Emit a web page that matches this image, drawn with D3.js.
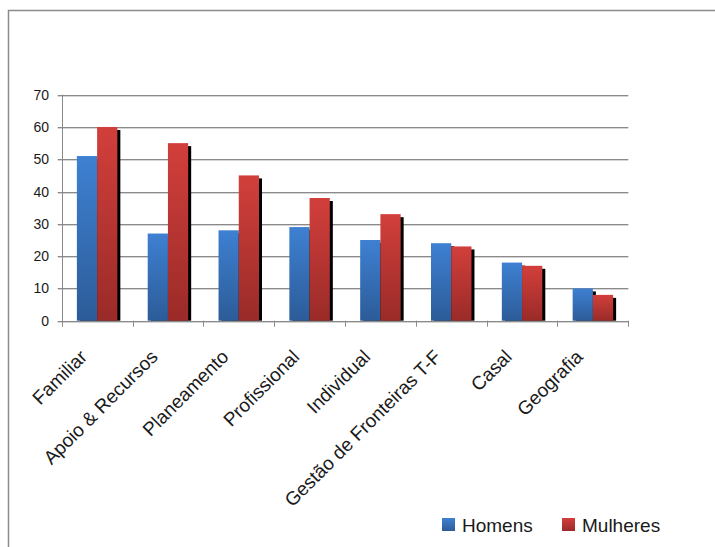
<!DOCTYPE html>
<html>
<head>
<meta charset="utf-8">
<script src="https://cdn.jsdelivr.net/npm/d3@7"></script>
<style>
    body { margin: 0; background: #fff; }
    text { font-family: "Liberation Sans", Arial, sans-serif; fill: #1a1a1a; }
</style>
</head>
<body>
<div id="chart"></div>
<script>

var categories = ["Familiar", "Apoio & Recursos", "Planeamento", "Profissional",
    "Individual", "Gestão de Fronteiras T-F", "Casal", "Geografia"];
var series = ["Homens", "Mulheres"];
var homens = [51, 27, 28, 29, 25, 24, 18, 10];
var mulheres = [60, 55, 45, 38, 33, 23, 17, 8];
var yTicks = [0, 10, 20, 30, 40, 50, 60, 70];

var values = [homens, mulheres];
var width = 715, height = 547;
var plotLeft = 61.7, plotRight = 628.3, plotTop = 94.7, plotBottom = 320.7;

var svg = d3.select("#chart")
    .append("svg")
    .attr("width", width)
    .attr("height", height);

// gradients for the bars
var defs = svg.append("defs");
var colors = [["#3e80d2", "#2c5c98"], ["#d23f3b", "#9a2b28"]];
colors.forEach(function (c, i) {
    var g = defs.append("linearGradient")
        .attr("id", "grad" + i)
        .attr("x1", 0).attr("y1", 0)
        .attr("x2", 0).attr("y2", 1);
    g.append("stop").attr("offset", "0%").attr("stop-color", c[0]);
    g.append("stop").attr("offset", "100%").attr("stop-color", c[1]);
});

// chart frame
svg.append("rect")
    .attr("x", 8.5)
    .attr("y", 10.5)
    .attr("width", 800)
    .attr("height", 600)
    .style("fill", "none")
    .style("stroke", "#8c8c8c")
    .style("stroke-width", 1.5);

var x0 = d3.scaleBand()
    .domain(categories)
    .range([plotLeft, plotRight]);

var x1 = d3.scaleBand()
    .domain(series)
    .range([0, x0.bandwidth()])
    .paddingOuter(0.75);

var y = d3.scaleLinear()
    .domain([0, 70])
    .range([plotBottom, plotTop]);

// gridlines
var grid = svg.append("g");
grid.selectAll("line.light")
    .data(yTicks)
    .enter()
    .append("line")
    .attr("x1", plotLeft - 4)
    .attr("x2", plotRight)
    .attr("y1", function (d) { return Math.round(y(d)) + 1.5; })
    .attr("y2", function (d) { return Math.round(y(d)) + 1.5; })
    .style("stroke", "#d4d4d4");
grid.selectAll("line.dark")
    .data(yTicks)
    .enter()
    .append("line")
    .attr("x1", plotLeft - 4)
    .attr("x2", plotRight)
    .attr("y1", function (d) { return Math.round(y(d)) + 0.5; })
    .attr("y2", function (d) { return Math.round(y(d)) + 0.5; })
    .style("stroke", "#8a8a8a");

// y axis line and labels
svg.append("line")
    .attr("x1", Math.round(plotLeft) + 0.5)
    .attr("x2", Math.round(plotLeft) + 0.5)
    .attr("y1", plotTop)
    .attr("y2", plotBottom + 1)
    .style("stroke", "#8a8a8a");

svg.selectAll("text.ytick")
    .data(yTicks)
    .enter()
    .append("text")
    .attr("class", "ytick")
    .attr("x", 49)
    .attr("y", function (d) { return y(d) + 5; })
    .attr("text-anchor", "end")
    .style("font-size", "14px")
    .text(function (d) { return d; });

// x tick marks at category edges
var edges = categories.map(function (c) { return x0(c); }).concat([plotRight]);
svg.selectAll("line.xtick")
    .data(edges)
    .enter()
    .append("line")
    .attr("x1", function (d) { return Math.round(d) + 0.5; })
    .attr("x2", function (d) { return Math.round(d) + 0.5; })
    .attr("y1", plotBottom)
    .attr("y2", plotBottom + 6)
    .style("stroke", "#8a8a8a");

// shadows first, then bars
var groups = svg.selectAll("g.cat")
    .data(categories)
    .enter()
    .append("g")
    .attr("class", "cat")
    .attr("transform", function (c) { return "translate(" + x0(c) + ",0)"; });

series.forEach(function (s, si) {
    groups.append("rect")
        .attr("x", x1(s) + 3)
        .attr("y", function (c, i) { return y(values[si][i]) + 3; })
        .attr("width", x1.bandwidth())
        .attr("height", function (c, i) { return plotBottom - y(values[si][i]) - 3; })
        .style("fill", "#000");
});
series.forEach(function (s, si) {
    groups.append("rect")
        .attr("x", x1(s))
        .attr("y", function (c, i) { return y(values[si][i]); })
        .attr("width", x1.bandwidth())
        .attr("height", function (c, i) { return plotBottom - y(values[si][i]); })
        .style("fill", "url(#grad" + si + ")");
});

// rotated category labels
svg.selectAll("text.catlabel")
    .data(categories)
    .enter()
    .append("text")
    .attr("class", "catlabel")
    .attr("text-anchor", "end")
    .attr("transform", function (c) {
        var cx = x0(c) + x0.bandwidth() / 2 - 9;
        return "translate(" + cx + ",358) rotate(-45)";
    })
    .style("font-size", "19px")
    .text(function (c) { return c; });

// legend
var legendX = [442, 562];
var legend = svg.selectAll("g.legend")
    .data(series)
    .enter()
    .append("g")
    .attr("class", "legend")
    .attr("transform", function (s, i) { return "translate(" + legendX[i] + ",518)"; });

legend.append("rect")
    .attr("width", 13)
    .attr("height", 13)
    .style("fill", function (s, i) { return "url(#grad" + i + ")"; });

legend.append("text")
    .attr("x", 20)
    .attr("y", 14)
    .style("font-size", "19px")
    .text(function (s) { return s; });

</script>
</body>
</html>
